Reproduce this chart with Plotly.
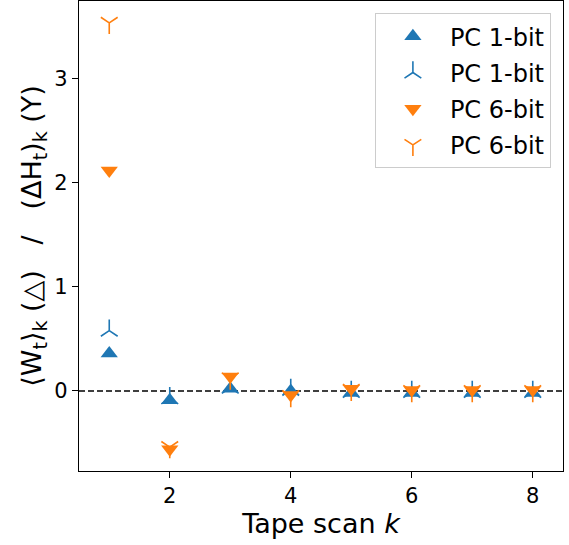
import plotly.graph_objects as go

k = [1, 2, 3, 4, 5, 6, 7, 8]
w_1bit = [0.36, -0.09, 0.02, 0.00, -0.02, -0.02, -0.02, -0.02]
dh_1bit = [0.58, -0.07, 0.03, 0.01, -0.01, -0.01, -0.01, -0.01]
w_6bit = [2.12, -0.56, 0.14, -0.04, 0.02, 0.01, 0.01, 0.01]
dh_6bit = [3.54, -0.54, 0.12, -0.05, 0.01, 0.00, 0.00, 0.00]
names = ["PC 1-bit", "PC 1-bit", "PC 6-bit", "PC 6-bit"]

BLUE = "#1f77b4"
ORANGE = "#ff7f0e"
FONT = "DejaVu Sans"

fig = go.Figure()
fig.add_trace(go.Scatter(x=k, y=w_1bit, mode="markers", name=names[0], legendgroup="a",
                         marker=dict(symbol="triangle-up", size=15, color=BLUE, line=dict(width=0))))
fig.add_trace(go.Scatter(x=k, y=dh_1bit, mode="markers", name=names[1], legendgroup="b",
                         marker=dict(symbol="y-up", size=14, color=BLUE, line=dict(width=1.6, color=BLUE))))
fig.add_trace(go.Scatter(x=k, y=w_6bit, mode="markers", name=names[2], legendgroup="c",
                         marker=dict(symbol="triangle-down", size=15, color=ORANGE, line=dict(width=0))))
fig.add_trace(go.Scatter(x=k, y=dh_6bit, mode="markers", name=names[3], legendgroup="d",
                         marker=dict(symbol="y-down", size=14, color=ORANGE, line=dict(width=1.6, color=ORANGE))))

fig.add_shape(type="line", xref="paper", x0=0, x1=1, yref="y", y0=0, y1=0,
              line=dict(color="black", width=1.4, dash="6px,3px"), layer="below")

nb = "\u00a0"
ytitle = ("⟨W<sub>t</sub>⟩<sub>k</sub>" + nb + "(△)" + nb * 3 + "/" + nb * 3 +
          "(ΔH<sub>t</sub>)<sub>k</sub>" + nb + "(Y)")

axis_common = dict(showline=True, linecolor="black", linewidth=1.2, mirror=True,
                   ticks="outside", ticklen=6, tickwidth=1.2, tickcolor="black",
                   showgrid=False, zeroline=False, automargin=False,
                   tickfont=dict(family=FONT, size=21, color="black"))

fig.update_layout(
    width=569, height=545,
    margin=dict(l=79, r=6, t=1, b=74),
    paper_bgcolor="white", plot_bgcolor="white",
    font=dict(family=FONT, color="black"),
    xaxis=dict(range=[0.5, 8.5], tickvals=[2, 4, 6, 8],
               title=dict(text="Tape scan <i>k</i>", font=dict(family=FONT, size=27), standoff=4),
               **axis_common),
    yaxis=dict(range=[-0.77, 3.75], tickvals=[0, 1, 2, 3],
               title=dict(text=ytitle, font=dict(family=FONT, size=27), standoff=4),
               **axis_common),
    showlegend=True,
    legend=dict(x=0.975, y=0.974, xanchor="right", yanchor="top",
                bgcolor="rgba(255,255,255,0.8)", bordercolor="#cccccc", borderwidth=1,
                font=dict(family=FONT, size=24, color="black"),
                itemwidth=64, tracegroupgap=2),
)

fig.write_html("out.html", config={"displayModeBar": False},
               post_script="document.body.style.margin='0px';")
